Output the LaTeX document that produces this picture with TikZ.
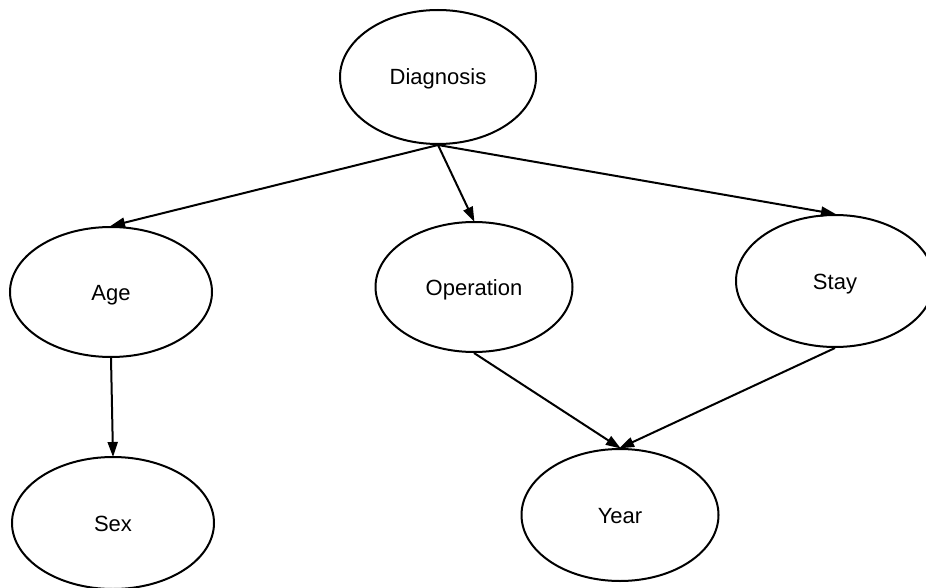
\documentclass[tikz,border=0pt]{standalone}
\usepackage{fontspec}
\setmainfont{Liberation Sans}
\usetikzlibrary{shapes.geometric,arrows.meta}
\begin{document}
\begin{tikzpicture}[x=1pt,y=-1pt,
  var/.style={ellipse,draw,line width=2pt,inner sep=0pt,
    text height=16pt,text depth=0pt,font=\fontsize{22}{26}\selectfont},
  arr/.style={line width=2pt,-{Triangle[length=15pt,width=10pt]},shorten >=-1pt}]
\useasboundingbox (0,0) rectangle (926,588);
\node[var,minimum width=196pt,minimum height=134pt] (diag) at (438,77) {Diagnosis};
\node[var,minimum width=202pt,minimum height=130pt] (age) at (111,292) {Age};
\node[var,minimum width=197pt,minimum height=130pt] (oper) at (474,287) {Operation};
\node[var,minimum width=198pt,minimum height=132pt] (stay) at (835,281) {Stay};
\node[var,minimum width=202pt,minimum height=132pt] (sex) at (113,523) {Sex};
\node[var,minimum width=197pt,minimum height=132pt] (year) at (620,515) {Year};
\draw[arr] (diag.south) -- (age.north);
\draw[arr] (diag.south) -- (oper.north);
\draw[arr] (diag.south) -- (stay.north);
\draw[arr] (age.south) -- (sex.north);
\draw[arr] (oper.south) -- (year.north);
\draw[arr] (stay.south) -- (year.north);
\end{tikzpicture}
\end{document}
